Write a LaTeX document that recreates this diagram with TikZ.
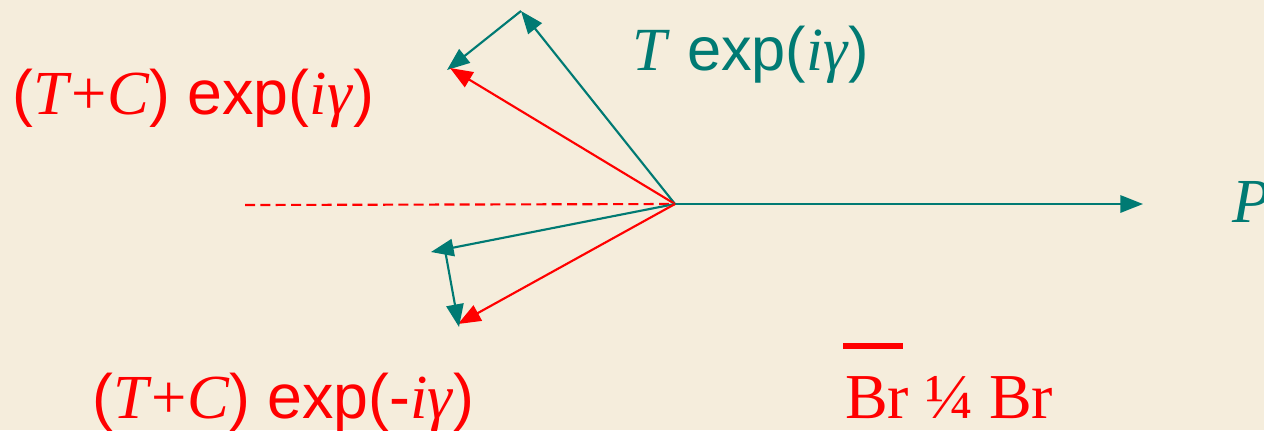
\documentclass[tikz,border=0pt]{standalone}
\usepackage{fontspec}
\setmainfont{Liberation Serif}
\setsansfont{Liberation Sans}
\usetikzlibrary{arrows.meta}
\definecolor{bg}{HTML}{F5EDDC}
\definecolor{teal}{HTML}{007A73}
\definecolor{rd}{HTML}{FF0000}
\begin{document}
\begin{tikzpicture}[x=0.75pt,y=-0.75pt,
  vec/.style={line width=1.6pt,-{Triangle[length=17pt,width=13pt]}},
  lbl/.style={inner sep=0pt,anchor=base west,font=\fontsize{47}{52}\selectfont}]
\fill[bg] (0,0) rectangle (1264,430);
\useasboundingbox (0,0) rectangle (1264,430);
\coordinate (O) at (675,204);
\coordinate (Pend) at (1143,204);
\coordinate (Dl) at (245,205);
\coordinate (T1) at (521,11);
\coordinate (S1) at (447,70);
\coordinate (R1) at (450,68);
\coordinate (T2) at (431,252);
\coordinate (T2b) at (445,250);
\coordinate (S2) at (459,327);
\coordinate (R2) at (458,324);
\draw[rd,line width=1.6pt,dash pattern=on 7.5pt off 4pt] (Dl) -- (O);
\draw[vec,teal] (O) -- (Pend);
\draw[vec,teal] (O) -- (T1);
\draw[vec,teal] (T1) -- (S1);
\draw[vec,rd] (O) -- (R1);
\draw[vec,teal] (O) -- (T2);
\draw[vec,rd] (O) -- (R2);
\draw[vec,teal] (T2b) -- (S2);
\node[lbl,text=rd] (L1) at (12,114) {{\sffamily(}\textit{T}+\textit{C}{\sffamily) exp(}\textit{iγ}{\sffamily)}};
\node[lbl,text=teal,font=\fontsize{46}{50}\selectfont] (L2) at (632,70) {\textit{T}{\sffamily\ exp(}\textit{iγ}{\sffamily)}};
\node[lbl,text=rd] (L3) at (92,418) {{\sffamily(}\textit{T}+\textit{C}{\sffamily) exp(-}\textit{iγ}{\sffamily)}};
\node[lbl,text=teal] (L4) at (1232,222) {\textit{P}};
\node[lbl,text=rd,font=\fontsize{48}{52}\selectfont] (L5) at (845,418) {Br ¼ Br};
\draw[rd,line width=4pt] (843,346) -- (903,346);
\end{tikzpicture}
\end{document}
